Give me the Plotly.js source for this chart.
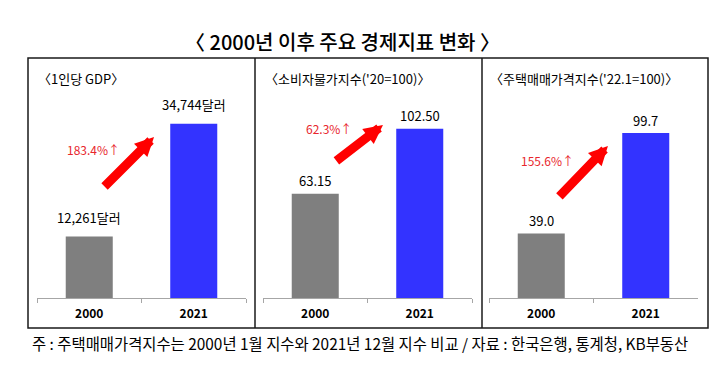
<!DOCTYPE html>
<html><head><meta charset="utf-8">
<script src="https://cdn.plot.ly/plotly-3.0.1.min.js"></script>
<style>html,body{margin:0;padding:0;background:#fff}#chart{width:720px;height:369px}</style>
</head><body><div id="chart"></div>
<script>
// ---- data ----
const years = ['2000', '2021'];
const gdpPerCapita = [12261, 34744];
const cpi = [63.15, 102.50];
const housePrice = [39.0, 99.7];
const gdpLabels = ['12,261달러', '34,744달러'];
const cpiLabels = ['63.15', '102.50'];
const houseLabels = ['39.0', '99.7'];
const growthLabels = ['183.4%↑', '62.3%↑', '155.6%↑'];
const panelTitles = ['〈1인당 GDP〉', '〈소비자물가지수(\'20=100)〉', '〈주택매매가격지수(\'22.1=100)〉'];
const chartTitle = '〈 2000년 이후 주요 경제지표 변화 〉';
const footnote = '주 : 주택매매가격지수는 2000년 1월 지수와 2021년 12월 지수 비교 / 자료 : 한국은행, 통계청, KB부동산';
const barColors = ['#7f7f7f', '#3333ff'];

// ---- layout helpers ----
const W = 720, H = 369;
const px = x => x / W;
const py = y => 1 - y / H;
const FONT = '"Noto Sans CJK KR", "Noto Sans", sans-serif';

const series = [gdpPerCapita, cpi, housePrice];
const labels = [gdpLabels, cpiLabels, houseLabels];
const xDomains = [[37, 246], [263, 472], [489, 698]];
const yTop = 90, yBot = 298;
const yMax = [41500, 126, 125.7];
const labelShift = [19, 13, 13];
const titleX = [36, 263, 488];
// arrow / growth text positions as fractions of each panel's plot area
const arrowTip = [[0.560, 0.774], [0.574, 0.832], [0.569, 0.731]];
const arrowTail = [[0.316, 0.529], [0.344, 0.654], [0.330, 0.481]];
const growthPos = [[0.268, 0.712], [0.316, 0.817], [0.282, 0.663]];

const traces = [];
const layout = {
  width: W, height: H,
  margin: {l: 0, r: 0, t: 0, b: 0},
  paper_bgcolor: '#ffffff', plot_bgcolor: 'rgba(0,0,0,0)',
  showlegend: false,
  font: {family: FONT, color: '#000'},
  annotations: [], shapes: []
};

series.forEach((vals, i) => {
  const n = i === 0 ? '' : String(i + 1);
  traces.push({
    type: 'bar', x: years, y: vals, xaxis: 'x' + n, yaxis: 'y' + n,
    marker: {color: barColors}, width: 0.45, hoverinfo: 'skip'
  });
  layout['xaxis' + n] = {
    domain: [px(xDomains[i][0]), px(xDomains[i][1])], anchor: 'y' + n,
    type: 'category', range: [-0.5, 1.5],
    showline: true, linecolor: '#a6a6a6', linewidth: 1,
    ticks: 'outside', tickson: 'boundaries', ticklen: 4, tickcolor: '#a6a6a6',
    ticklabelstandoff: 5,
    showgrid: false, zeroline: false,
    tickfont: {family: FONT, size: 12, weight: 'bold', color: '#000'}
  };
  layout['yaxis' + n] = {
    domain: [py(yBot), py(yTop)], anchor: 'x' + n, range: [0, yMax[i]],
    showgrid: false, zeroline: false, showline: false, showticklabels: false, ticks: ''
  };
  // value labels (category index j on the category axis)
  vals.forEach((v, j) => {
    layout.annotations.push({
      xref: 'x' + n, yref: 'y' + n, x: j, y: v,
      text: labels[i][j], showarrow: false, xanchor: 'center', yanchor: 'middle', yshift: labelShift[i],
      font: {family: FONT, size: 13, color: '#000'}
    });
  });
  // arrow
  layout.annotations.push({
    xref: 'x' + n + ' domain', yref: 'y' + n + ' domain',
    axref: 'x' + n + ' domain', ayref: 'y' + n + ' domain',
    x: arrowTip[i][0], y: arrowTip[i][1], ax: arrowTail[i][0], ay: arrowTail[i][1],
    text: '', showarrow: true, arrowhead: 2, arrowsize: 0.42, arrowwidth: 9,
    arrowcolor: '#ff0000', standoff: 0, startstandoff: 0
  });
  // growth label
  layout.annotations.push({
    xref: 'x' + n + ' domain', yref: 'y' + n + ' domain',
    x: growthPos[i][0], y: growthPos[i][1], xanchor: 'center', yanchor: 'middle',
    text: growthLabels[i], showarrow: false,
    font: {family: FONT, size: 12, color: '#e8262d'}
  });
  // panel title
  layout.annotations.push({
    xref: 'paper', yref: 'paper', x: px(titleX[i]), y: py(78), xanchor: 'left', yanchor: 'middle',
    text: panelTitles[i], showarrow: false, font: {family: FONT, size: 13, color: '#000'}
  });
});

// main title and footnote
layout.annotations.push({
  xref: 'paper', yref: 'paper', x: px(342), y: py(41), xanchor: 'center', yanchor: 'middle',
  text: chartTitle, showarrow: false, font: {family: FONT, size: 20, weight: 500, color: '#000'}
});
layout.annotations.push({
  xref: 'paper', yref: 'paper', x: px(30), y: py(343), xanchor: 'left', yanchor: 'middle',
  text: footnote, showarrow: false, font: {family: FONT, size: 15.4, color: '#000'}
});

// frame
const lineStyle = {color: '#1a1a1a', width: 1.5};
layout.shapes.push({type: 'rect', xref: 'paper', yref: 'paper', x0: px(28), x1: px(708), y0: py(58), y1: py(328), line: lineStyle});
[255, 482].forEach(x => layout.shapes.push({type: 'line', xref: 'paper', yref: 'paper', x0: px(x), x1: px(x), y0: py(58), y1: py(328), line: lineStyle}));

Plotly.newPlot('chart', traces, layout, {displayModeBar: false, staticPlot: true});
</script>
</body></html>
